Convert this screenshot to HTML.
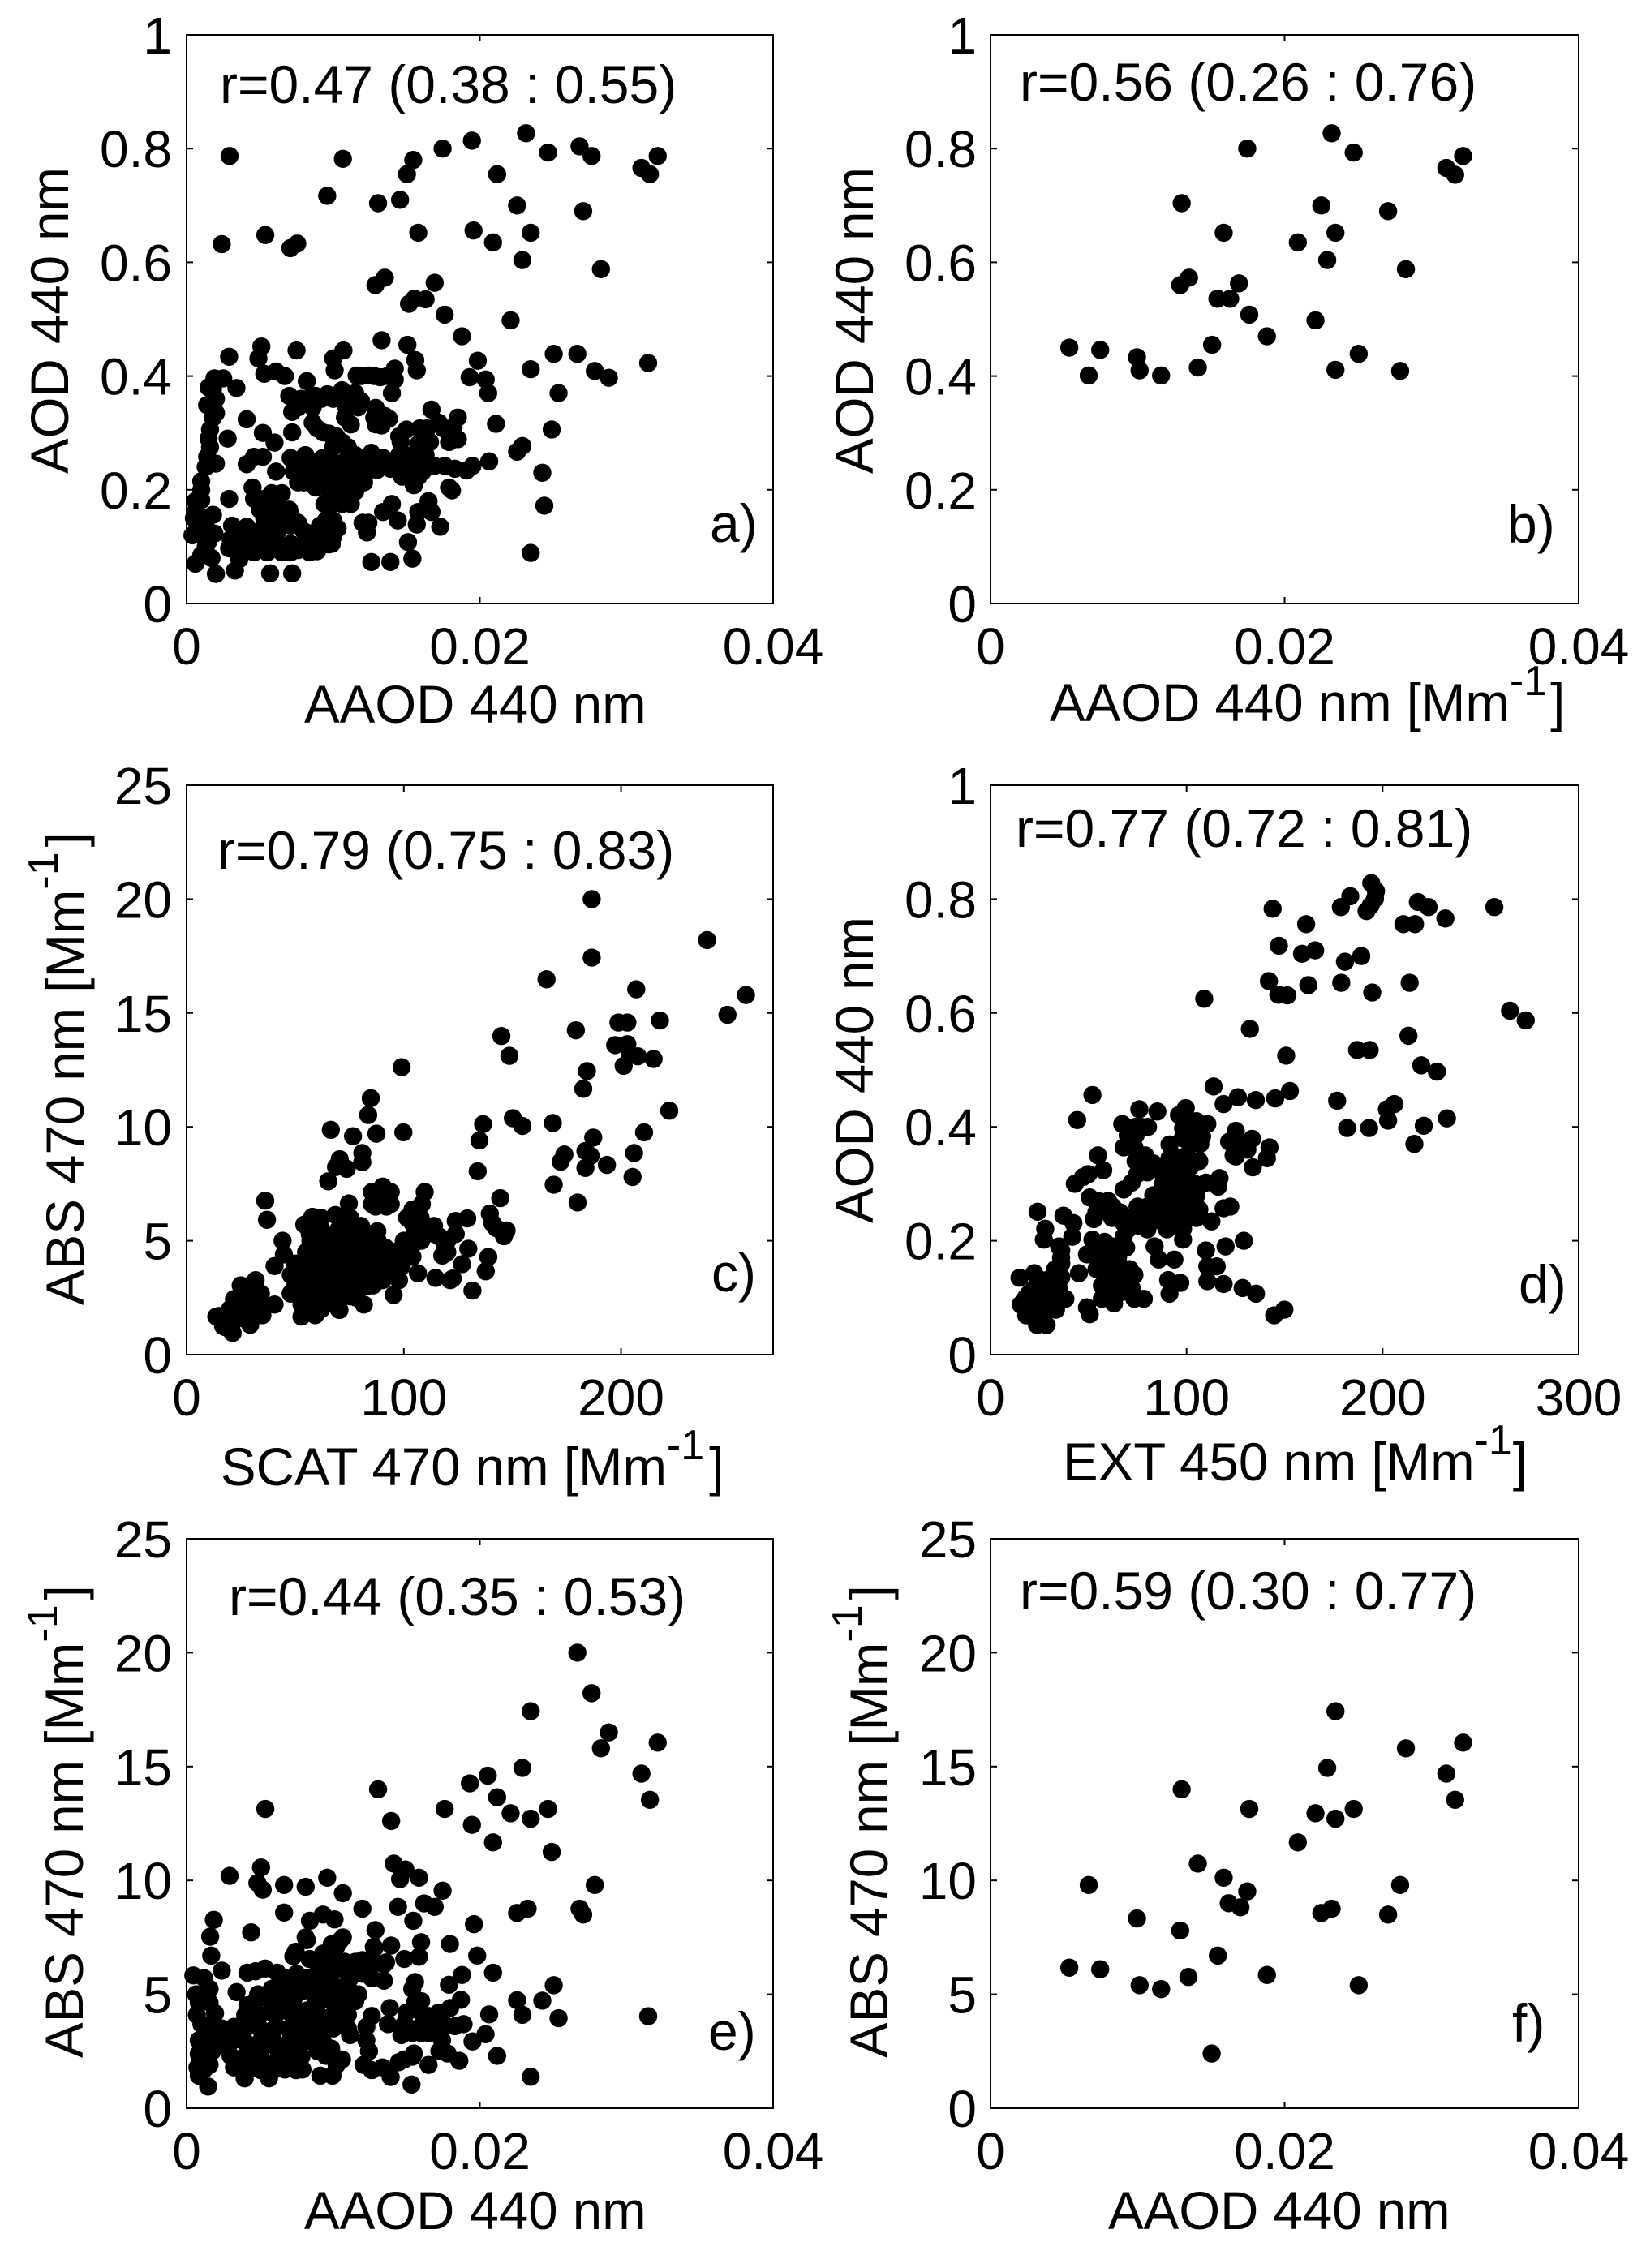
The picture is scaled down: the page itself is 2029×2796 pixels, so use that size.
<!DOCTYPE html>
<html>
<head>
<meta charset="utf-8">
<title>Scatter panels</title>
<style>
html,body{margin:0;padding:0;background:#fff;}
svg{display:block;}
text{font-family:"Liberation Sans",Arial,sans-serif;fill:#000;}
.annot,.letter{font-size:66px;}
.axt{font-size:65.4px;}
.tick{font-size:64px;}
.sup{font-size:52px;}
</style>
</head>
<body>
<svg id="fig" xmlns="http://www.w3.org/2000/svg" width="2029" height="2796" viewBox="0 0 2029 2796">
<rect x="0" y="0" width="2029" height="2796" fill="#fff"/>

<g id="panel-a"></g>
<g id="panel-b"></g>
<g id="panel-c"></g>
<g id="panel-d"></g>
<g id="panel-e"></g>
<g id="panel-f"></g>

<g>
<text class="annot" x="271" y="127">r=0.47 (0.38 : 0.55)</text>
<text class="annot" x="1257" y="124">r=0.56 (0.26 : 0.76)</text>
<text class="annot" x="268" y="1071">r=0.79 (0.75 : 0.83)</text>
<text class="annot" x="1252" y="1044">r=0.77 (0.72 : 0.81)</text>
<text class="annot" x="282" y="1991">r=0.44 (0.35 : 0.53)</text>
<text class="annot" x="1257" y="1984">r=0.59 (0.30 : 0.77)</text>
<text class="letter" x="875" y="668">a)</text>
<text class="letter" x="1858" y="669">b)</text>
<text class="letter" x="877" y="1592">c)</text>
<text class="letter" x="1872" y="1606">d)</text>
<text class="letter" x="873" y="2527">e)</text>
<text class="letter" x="1864" y="2517">f)</text>
</g>

<g>
<text class="axt" x="375" y="891">AAOD 440 nm</text>
<text class="axt" x="1294" y="889">AAOD 440 nm [Mm<tspan class="sup" dy="-32">-1</tspan><tspan dy="32" dx="4">]</tspan></text>
<text class="axt" x="272" y="1831">SCAT 470 nm [Mm<tspan class="sup" dy="-32">-1</tspan><tspan dy="32" dx="6">]</tspan></text>
<text class="axt" x="1310" y="1825">EXT 450 nm [Mm<tspan class="sup" dy="-32">-1</tspan><tspan dy="32" dx="1">]</tspan></text>
<text class="axt" x="375" y="2748">AAOD 440 nm</text>
<text class="axt" x="1366" y="2748">AAOD 440 nm</text>
<text class="axt" transform="translate(84,584) rotate(-90)">AOD 440 nm</text>
<text class="axt" transform="translate(1076,584) rotate(-90)">AOD 440 nm</text>
<text class="axt" transform="translate(103,1609) rotate(-90)">ABS 470 nm [Mm<tspan class="sup" dy="-32">-1</tspan><tspan dy="32" dx="6">]</tspan></text>
<text class="axt" transform="translate(1076,1508) rotate(-90)">AOD 440 nm</text>
<text class="axt" transform="translate(102,2537) rotate(-90)">ABS 470 nm [Mm<tspan class="sup" dy="-32">-1</tspan><tspan dy="32" dx="6">]</tspan></text>
<text class="axt" transform="translate(1094,2537) rotate(-90)">ABS 470 nm [Mm<tspan class="sup" dy="-32">-1</tspan><tspan dy="32" dx="6">]</tspan></text>
</g>
</svg>

<script>
// ---- tick values and labels ----
const aaodTicks = [0, 20, 40];            // AAOD x 1000
const aaodTickLabels = ['0', '0.02', '0.04'];
const aodTicks = [0, 0.2, 0.4, 0.6, 0.8, 1];
const aodTickLabels = ['0', '0.2', '0.4', '0.6', '0.8', '1'];
const absTicks = [0, 5, 10, 15, 20, 25];
const absTickLabels = ['0', '5', '10', '15', '20', '25'];
const scatTicks = [0, 100, 200];
const scatTickLabels = ['0', '100', '200'];
const extTicks = [0, 100, 200, 300];
const extTickLabels = ['0', '100', '200', '300'];

// ---- panel a: AAOD x 1000 vs AOD ----
const panelAX = [
10.66,9.59,13.06,14.56,15.03,15.46,17.46,19.46,23.15,24.65,26.8,27.62,21.18,22.54,27.05,31.02,31.6,32.13,2.93,
2.4,5.37,7.08,7.55,15.8,19.57,20.9,23.47,22.9,28.26,12.88,13.52,16.92,15.17,15.53,16.3,17.6,22.1,18.78,13.3,15.06,
25.04,26.65,19.86,31.48,23.47,27.84,28.8,25.37,24.9,22.9,22.54,24.26,24.4,23.47,20.64,21.1,20.57,20.4,19.3,
1.9,2.5,3.4,1.8,2,1.4,1.8,1.8,1.6,1.6,1.4,2,1,1,.6,1.8,.8,.8,1.9,1.3,1.7,.6,2,3.3,3.6,2.9,4.1,2.8,2.9,5.1,4.9,7.5,5.3,6.1,6.7,10,10.7,10.1,15.6,15.7,
5.2,6,4.6,4.1,5.2,6.1,4.5,
3.1,3,2.9,4,4.1,5,5.3,5.8,4.6,6.7,7.6,8.9,9.7,10.3,10,9.3,8.4,8.8,7.6,6.2,4.1,5.7,7.2,
4.6,5,5.8,6.5,5.8,6.7,5.4,7.1,7.1,9.5,9.1,10,
7.1,8.1,9.3,7.3,8.4,9.5,10.6,11.5,12.6,10.8,11.7,11.9,10,8.8,11.2,9.4,10.2,10.8,7.6,
8.6,9.3,10.2,11,10,
13.4,13.9,14.7,15.5,15.2,15.9,14.5,14.5,15,15.8,16.3,16.7,17.2,18.5,18.2,18.5,17.9,15.9,17.6,18.3,19.1,19.5,16.9,16.1,
7,7.2,8.2,7.8,8.8,9.6,10.6,11.5,11.9,10.8,11.2,12.9,12.8,13.3,13.8,11.6,12.4,13.2,14.2,14.2,14,7.2,
14,13.4,12.4,12,12.3,14.4,16.5,15.8,16.7,15.7,17.3,15.1,15.4,12.6,13.9,18.1,17.9,
3.4,4.3,5.3,6.2,8,8.9,9.9,
3.4,4.3,5.3,6.2,7.1,8,8.9,9.9,
3.6,4.6,5.5,6.5,7.1,8.4,
5.3,6.2,
5.4,6.2,7,
5.3,6,6.8,
7.5,8.9,9.9,10.8,
7.8,8.9,10.2,11,12.1,
8,9,9.7,10.5,11.5,12.1,
9.7,10.5,11.5,
9.9,10.6,11.2,
12,13,14,
13,12.5,
15.4,16.3,
15,16,
14.6,16.6,
16.4,17.5,18,
15,15.8,
8.3,9.2,10,11,
7.6,8.6,10.9,11.7,
13,13.5,
12.9,
11.9,12.8,13.7,
8.9,9.7,10.6,
1.5,2,1.5,1.3,1,.6,1.2,.7,1.5,1,.4,.5,1.4
];
const panelAY = [
.782,.717,.704,.71,.755,.78,.8,.814,.827,.793,.804,.787,.755,.7,.69,.766,.755,.787,.787,
.632,.648,.625,.633,.652,.656,.635,.652,.604,.588,.56,.573,.564,.527,.536,.535,.508,.498,.47,.463,.455,
.439,.439,.427,.423,.412,.409,.397,.37,.306,.277,.267,.23,.172,.089,.25,.316,.37,.394,.398,
.396,.396,.379,.377,.36,.349,.346,.327,.306,.275,.258,.246,.215,.182,.161,.156,.139,.123,.123,.099,.08,.07,.052,.058,.078,.184,.324,.29,.434,.452,.431,.445,.404,.408,.4,.431,.445,.41,.428,.41,
.3,.283,.258,.245,.258,.232,.204,
.137,.113,.097,.123,.099,.127,.094,.118,.108,.097,.094,.092,.104,.132,.118,.123,.123,.108,.142,.142,.135,.053,.053,
.184,.165,.194,.194,.165,.165,.146,.156,.137,.146,.137,.146,
.256,.261,.256,.232,.237,.232,.246,.261,.265,.223,.227,.242,.204,.204,.204,.175,.18,.192,.213,
.318,.301,.294,.275,.275,
.256,.237,.223,.208,.237,.246,.261,.294,.306,.28,.299,.341,.318,.327,.308,.289,.284,.308,.242,.237,.234,.242,.242,.232,
.365,.337,.391,.36,.365,.368,.375,.37,.356,.327,.315,.344,.327,.313,.325,.401,.401,.398,.413,.394,.37,.301,
.175,.161,.142,.142,.125,.146,.18,.161,.161,.139,.135,.108,.079,.073,.073,.199,.204,
.127,.127,.127,.127,.127,.127,.127,
.105,.105,.105,.105,.105,.105,.105,.105,
.09,.09,.09,.09,.09,.09,
.184,.184,
.165,.165,.165,
.15,.15,.15,
.25,.25,.25,.25,
.23,.23,.23,.23,.23,
.213,.213,.213,.213,.213,.213,
.197,.197,.197,
.175,.175,.175,
.25,.25,.25,
.235,.235,
.261,.261,
.237,.237,
.284,.284,
.308,.308,.308,
.223,.223,
.36,.36,.36,.36,
.345,.345,.345,.345,
.33,.33,
.315,
.4,.4,.4,
.308,.299,.284,
.38,.335,.29,.24,.2,.18,.15,.13,.11,.085,.12,.15,.13
];

// ---- panel b: AAOD x 1000 vs AOD ----
const panelBX = [5.36,6.68,7.46,9.96,10.14,11.6,13,12.9,13.5,14.1,15.07,15.43,16.3,15.86,16.9,17.46,17.6,18.8,20.9,22.1,22.5,22.9,23.2,23.46,23.46,24.7,25.04,27.04,27.86,28.25,31,31.6,32.14];
const panelBY = [.45,.401,.446,.433,.41,.401,.704,.56,.573,.415,.455,.536,.536,.652,.563,.8,.508,.47,.635,.498,.7,.604,.827,.652,.411,.793,.439,.69,.409,.588,.766,.754,.787];

// ---- panel c: SCAT vs ABS ----
const panelCX = [
186.5,239.6,186.5,165.7,207,257.5,249,217.9,198.8,202.9,179.2,144.9,148.6,197.3,202.9,204,207.7,201.2,215,99,184.3,182.6,84.8,83.6,222.2,136.5,150.2,154.6,168.6,66.4,
99.8,76.6,87.4,210.6,134.8,187.2,80.9,206,80.9,173.9,172.2,183.6,186,183.6,193.5,134,205.3,169,180,70.5,68.8,73.7,65.2,36.2,37,144.4,139.6,140.8,142.5,147.3,146.1,129.7,138.9,137.7,126.8,131.6,129.2,123.9,122.5,
13.7,16.8,21.2,29.3,21.8,28,34.9,21.8,28,34.2,24.9,31.8,29.3,34.2,40.5,47.9,40.5,44.2,44.8,50.4,
52.9,59.2,70.4,81.6,95.3,85.9,52.9,60.4,67.9,75.3,50.4,56.7,64.1,71.6,79.1,90.3,97.8,55.4,62.9,70.4,77.8,85.3,92.8,99,106.5,114.6,121.4,
57.9,54.2,56.7,59.2,68.5,74.7,75.3,69.1,75.3,66.6,72.9,84.1,85.3,91.5,97.8,104,105.2,
90.3,85.3,94,89.7,94,85.3,80.3,87.8,109.6,108.3,104,101.5,107.7,109,104,123.9,118.9,117.7,113.9,116.4,
55,62,70,
55,60,65,70,78,
50,55,60,68,75,83,
48,53,58,65,72,78,83,88,95,
50,55,60,65,73,82,90,95,
55,63,68,78,83,88,95,
57,62,66,72,78,82,88,
58,62,70,80,
62,72,
87,92,
88,92,
100,108,
100,104,
18,22,28,
20,25,30,
24,32,
28,18,15,120,120,114
];
const panelCY = [
20,18.2,17.43,16.48,16.04,15.79,14.92,14.67,14.58,14.58,14.24,13.99,13.12,13.59,13.63,13.17,13.1,12.68,12.98,12.62,12.45,11.67,11.26,10.52,10.71,10.12,10.38,10.04,10.17,9.87,
9.76,9.59,9.7,9.76,9.4,9.53,8.85,8.85,8.45,8.79,8.47,8.94,8.73,8.2,8.33,8.05,7.8,7.46,6.68,8.58,8.24,8.16,7.61,6.76,5.92,6.87,6.19,5.77,5.56,5.45,5.2,4.65,4.29,3.66,3.97,2.81,5.98,5.87,3.34,
1.67,1.25,.95,1.31,1.73,1.85,1.73,2.44,2.56,2.2,3.04,3.27,2.8,2.68,2.2,2.68,3.89,5,4.4,3.63,
1.67,1.73,1.96,2.2,2.62,3.04,2.2,2.32,2.32,2.56,3.04,3.04,3.04,3.04,3.15,3.27,3.27,3.75,3.75,3.87,3.75,3.87,3.99,3.87,3.57,3.37,3.27,
6.05,5.71,5.3,4.82,6.13,6.64,6.01,5.18,5.3,4.35,4.35,5.3,4.7,4.7,4.58,4.82,5.42,
7.38,7.14,7.14,6.73,6.61,6.61,5.65,5.42,7.14,6.61,6.37,6.01,6.01,5.54,5.77,5.3,4.82,4.35,5.65,5.18,
2,2,2,
2.5,2.5,2.5,2.5,2.5,
3,3,3,3,3,3,
3.5,3.5,3.5,3.5,3.5,3.5,3.5,3.5,3.5,
4,4,4,4,4,4,4,4,
4.5,4.5,4.5,4.5,4.5,4.5,4.5,
5,5,5,5,5,5,5,
5.5,5.5,5.5,5.5,
6,6,
6.5,6.5,
7,7,
5,5,
4.3,4.3,
1.5,1.5,1.5,
2,2,2,
2.5,2.5,
3,1.2,1.7,5,4.5,5.3
];

// ---- panel d: EXT vs AOD ----
const panelDX = [
143.9,161,178.7,183.5,194.2,196.6,196.1,193.9,191.8,210.6,216.5,218,223.4,232,257,147.1,158.9,165.6,180.8,189.1,142,162.1,178.9,213.8,146.8,151.4,194.7,109,265,273,132.3,213.2,187,193.4,150.8,219.7,227.7,113.8,152.7,52,126.2,118.9,135.3,145.2,176.8,206,202.2,202.8,232.8,221,181.9,193.1,44.2,216.2,
75.9,85.1,67.2,70.6,80.3,67.9,73.4,78.9,83,99.6,96.1,98.2,110.6,107.9,102.3,125.1,121.7,133.4,125.1,129.2,142.3,141,133.8,
54.8,57.5,49.9,43,47.2,50.6,52.7,56.1,62.3,67.9,72,74.8,
91.3,91.3,87.2,89.9,85.8,98.2,106.5,116.8,116.1,109.9,98.2,105.1,94.1,102.3,84.4,76.1,91.3,101,67.9,76.1,84.4,98.2,98.2,106.5,112.7,122.3,118.9,
24,37.2,42.3,41.7,27.9,27.2,83.7,85.8,93.8,90.6,96.8,91.3,
129.2,119.9,109.9,110.6,115.4,110.6,118.9,128.6,135.4,149.9,144.7,
52,49.2,58.2,56.8,65.1,69.2,54.1,62.3,70.6,73.4,56.8,63.7,72,73.4,78.2,62.3,56.8,49.2,50.6,67.9,
36.1,36.1,45.1,36.1,14.8,22.3,28.6,34.8,38.2,32.7,15.4,19.6,22.3,29.2,18.2,23.7,28.6,33.4,24.4,
88,92,96,100,104,
83,90,95,100,105,
75,80,88,95,100,105,
62,70,80,87,95,105,
70,80,90,
92,95,102,
93,100,
98,103,
100,105,
55,60,
54,60,66,
55,62,
60,65,
58,66,71,
60,67,70,
60,67,
63,
18,22,28,
25,
22,27,31,
22,27,
25,
25,31,
33,36,35,
70,74,
74,77,
72,74,80,
107,103,
127,124,131
];
const panelDY = [
.783,.756,.786,.805,.828,.814,.801,.789,.779,.756,.756,.795,.786,.766,.786,.718,.704,.71,.69,.7,.656,.649,.653,.653,.632,.631,.636,.625,.604,.587,.572,.56,.535,.535,.525,.508,.497,.471,.463,.456,.452,.44,.447,.45,.446,.44,.431,.411,.415,.402,.398,.398,.412,.37,
.431,.427,.405,.398,.4,.364,.364,.35,.336,.433,.421,.398,.405,.383,.374,.393,.374,.379,.348,.364,.364,.345,.329,
.35,.324,.317,.3,.312,.276,.238,.26,.26,.29,.302,.317,
.369,.345,.321,.302,.283,.331,.34,.31,.295,.302,.302,.293,.274,.269,.264,.245,.24,.245,.231,.226,.236,.221,.202,.255,.234,.26,.257,
.251,.244,.231,.207,.221,.202,.19,.167,.167,.131,.126,.107,
.2,.19,.183,.155,.155,.129,.124,.117,.107,.079,.069,
.202,.176,.198,.169,.174,.188,.15,.145,.15,.14,.121,.121,.117,.098,.098,.102,.098,.083,.071,.207,
.183,.16,.143,.136,.135,.143,.131,.117,.098,.093,.088,.107,.079,.079,.069,.052,.052,.079,.098,
.3,.3,.3,.3,.3,
.28,.28,.28,.28,.28,
.26,.26,.26,.26,.26,.26,
.24,.24,.24,.24,.24,.24,
.22,.22,.22,
.33,.33,.33,
.35,.35,
.38,.38,
.41,.41,
.27,.27,
.25,.25,.25,
.19,.19,
.17,.17,
.15,.15,.15,
.13,.13,.13,
.11,.11,
.09,
.1,.1,.1,
.08,
.115,.115,.115,
.07,.07,
.06,
.125,.125,
.15,.17,.19,
.385,.385,
.4,.4,
.37,.34,.32,
.37,.37,
.37,.35,.36
];

// ---- panel e: AAOD x 1000 vs ABS ----
const panelEX = [
26.65,27.62,23.47,28.8,28.26,32.13,31.02,31.6,22.9,20.54,19.32,21.18,13.06,5.37,13.95,17.6,19.46,22.1,23.47,24.65,20.9,24.9,14.13,14.92,14.56,15.85,2.93,5.08,4.83,5.19,6.65,8.12,9.59,10.66,17.46,27.84,
11.99,14.42,16.2,16.92,15.46,22.54,23.26,26.8,27.05,6.65,1.86,1.61,4.4,8.41,9.3,10.09,19.6,12.88,8.12,10.66,13.95,15.99,17.96,12.77,19.82,1.68,10.2,7.44,11.99,14.85,15.85,2.4,20.9,18.78,17.89,25.04,22.54,24.26,22.9,20.64,25.37,31.48,20.39,19.5,21.18,18.6,23.47,
.46,1.2,.65,1.57,1.57,.83,1.01,1.94,.83,1.75,.83,1.75,.74,1.57,.83,1.47,
4.15,4.7,5.35,6.18,3.41,4.15,4.88,5.81,5.81,6.73,6.64,3.96,3.23,2.67,3.78,4.88,5.25,4.52,6.18,6.54,5.99,
7.28,7.83,7.28,8.2,8.39,8.2,9.31,10.5,10.05,8.94,10.05,10.78,11.15,11.52,11.98,12.81,13.46,13.46,12.63,11.71,10.78,9.68,9.31,8.2,7.65,8.76,9.68,10.78,11.15,8.57,7.47,
3.23,3.96,5.07,5.62,5.99,7.47,7.83,2.67,8.94,9.86,10.6,9.12,9.95,10.23,
12.07,12.63,13.92,13.36,12.44,12.26,12.26,12.63,13.86,13.73,14.84,15.94,16.5,17.42,18.89,17.97,18.71,15.58,15.39,15.58,
14.65,14.84,15.39,16.5,17.42,17.24,14.47,15.34,7.1,
1.2,4.3,6,6.7,7.9,
1.3,3,4,5,6.3,7,9.5,10,
1.2,2,3,4,5,6,7,8,9.3,
1.5,2.4,4,5,6,7,8,9,10,11,
.7,4,5,6,7.2,8,9,10,11,
4.7,6.8,8.8,10,10.8,11.5,
7.2,8.8,9.2,10.3,11,
7.5,9.3,9.7,11,12,
9.2,9.7,10.3,12.8,13.6,
9.9,
15.4,16,16.5,17,
15,16,17.2,
15,16.4,17.5,18.3,
15.5,17.8,
16
];
const panelEY = [
20,18.22,17.43,16.5,15.8,16.05,14.69,13.54,14.94,14.6,14.26,13.65,14,13.14,12.61,13.14,12.44,12.95,12.71,13.14,11.67,11.25,10.74,10.48,10.06,10.12,10.2,10.57,9.89,9.59,9.8,9.72,10.12,9.44,9.55,9.8,
8.76,8.84,8.99,8.84,8.23,8.57,8.76,8.76,8.5,8.59,8.27,7.53,7.72,8.23,8.5,8.29,8.08,7.82,7.5,7.5,7.14,7.29,7.21,7.08,6.7,6.7,7.08,6.87,6.5,6.55,6.65,6.04,5.95,5.85,5.42,5.4,4.74,4.72,4.1,4.12,3.95,4.04,3.25,2.93,2.3,2.08,1.38,
5.83,5.71,5,5.24,4.64,4.64,3.69,4.17,2.98,3.21,2.38,2.5,1.79,1.9,1.43,.95,
5.95,6.01,6.13,5.95,5.1,4.52,5,5.24,4.64,5.71,5.12,3.81,3.57,3.33,2.98,4.05,3.33,2.74,3.57,4.29,2.74,
4.76,5.12,6.67,7.38,6.55,5.71,6.79,7.38,6.79,5.95,6.07,6.43,5.71,6.43,6.49,7.02,6.31,5.6,5.71,5,4.52,5.24,4.76,4.29,3.57,4.05,3.81,3.81,3.21,3.21,2.86,
1.79,1.31,1.67,1.31,2.02,1.67,2.26,2.74,2.5,2.62,2.14,1.43,1.43,1.9,
1.9,1.67,1.37,1.79,2.5,2.98,3.57,4.05,4.4,3.69,3.69,3.57,4.05,3.81,3.69,4.4,4.76,4.64,5.24,5.54,
3.21,2.14,2.26,1.9,2.98,2.5,2.02,1.04,3.33,
1.7,1.7,1.7,1.7,1.7,
2.3,2.3,2.3,2.3,2.3,2.3,2.3,2.3,
2.9,2.9,2.9,2.9,2.9,2.9,2.9,2.9,2.9,
3.5,3.5,3.5,3.5,3.5,3.5,3.5,3.5,3.5,3.5,
4.1,4.1,4.1,4.1,4.1,4.1,4.1,4.1,4.1,
4.7,4.7,4.7,4.7,4.7,4.7,
5.3,5.3,5.3,5.3,5.3,
5.9,5.9,5.9,5.9,5.9,
6.4,6.4,6.4,6.4,6.4,
7.2,
3.3,3.3,3.3,3.3,
4.2,4.2,4.2,
3.6,3.6,3.6,3.6,
2.4,2.4,
4.7
];

// ---- panel f: AAOD x 1000 vs ABS ----
const panelFX = [5.36,6.68,7.46,9.96,10.14,11.6,13,12.9,13.46,14.1,15.04,15.46,15.86,16.2,17,17.46,17.6,18.8,20.9,22.1,22.5,22.9,23.2,23.46,23.46,24.7,25.04,27.04,27.86,28.25,31,31.6,32.14];
const panelFY = [6.17,9.8,6.1,8.33,5.4,5.23,14,7.8,5.76,10.74,2.4,6.7,10.12,9,8.82,9.52,13.14,5.85,11.67,12.95,8.57,14.94,8.76,17.43,12.71,13.14,5.4,8.5,9.8,15.8,14.69,13.54,16.05];

// ---- layout ----
const NS = 'http://www.w3.org/2000/svg';
const DOT_R = 11.2;
const TICK_LEN = 8;
const COL_1 = { left: 230, right: 953, yTickRight: 212 };
const COL_2 = { left: 1221, right: 1946, yTickRight: 1204 };
const ROW_1 = { top: 43, bottom: 744 };
const ROW_2 = { top: 968, bottom: 1670 };
const ROW_3 = { top: 1897, bottom: 2599 };

function scaleLinear(v, d0, d1, r0, r1) {
  return r0 + (v - d0) / (d1 - d0) * (r1 - r0);
}

function makeLine(parent, x1, y1, x2, y2) {
  const el = document.createElementNS(NS, 'line');
  el.setAttribute('x1', x1);
  el.setAttribute('y1', y1);
  el.setAttribute('x2', x2);
  el.setAttribute('y2', y2);
  el.setAttribute('stroke', '#000');
  el.setAttribute('stroke-width', '2');
  
  
  parent.appendChild(el);
}

function makeTickLabel(parent, x, y, anchor, label) {
  const el = document.createElementNS(NS, 'text');
  el.setAttribute('class', 'tick');
  el.setAttribute('x', x);
  el.setAttribute('y', y);
  el.setAttribute('text-anchor', anchor);
  
  
  el.textContent = label;
  parent.appendChild(el);
}

function drawPanel(id, col, row, xDomain, yDomain, xTicks, xLabels, yTicks, yLabels, xs, ys) {
  const g = document.getElementById(id);
  const sx = v => scaleLinear(v, xDomain[0], xDomain[1], col.left, col.right);
  const sy = v => scaleLinear(v, yDomain[0], yDomain[1], row.bottom, row.top);

  const frame = document.createElementNS(NS, 'rect');
  frame.setAttribute('x', col.left);
  frame.setAttribute('y', row.top);
  frame.setAttribute('width', col.right - col.left);
  frame.setAttribute('height', row.bottom - row.top);
  frame.setAttribute('fill', 'none');
  frame.setAttribute('stroke', '#000');
  frame.setAttribute('stroke-width', '2');
  
  
  g.appendChild(frame);

  xTicks.forEach((t, i) => {
    const x = sx(t);
    makeLine(g, x, row.bottom, x, row.bottom - TICK_LEN);
    makeLine(g, x, row.top, x, row.top + TICK_LEN);
    makeTickLabel(g, x, row.bottom + 75, 'middle', xLabels[i]);
  });
  yTicks.forEach((t, i) => {
    const y = sy(t);
    makeLine(g, col.left, y, col.left + TICK_LEN, y);
    makeLine(g, col.right, y, col.right - TICK_LEN, y);
    makeTickLabel(g, col.yTickRight, y + 23, 'end', yLabels[i]);
  });

  const n = Math.min(xs.length, ys.length);
  for (let i = 0; i < n; i++) {
    const dot = document.createElementNS(NS, 'circle');
    dot.setAttribute('cx', sx(xs[i]));
    dot.setAttribute('cy', sy(ys[i]));
    dot.setAttribute('r', DOT_R);
    dot.setAttribute('fill', '#000');
    
    
    g.appendChild(dot);
  }
}

drawPanel('panel-a', COL_1, ROW_1, [0, 40], [0, 1], aaodTicks, aaodTickLabels, aodTicks, aodTickLabels, panelAX, panelAY);
drawPanel('panel-b', COL_2, ROW_1, [0, 40], [0, 1], aaodTicks, aaodTickLabels, aodTicks, aodTickLabels, panelBX, panelBY);
drawPanel('panel-c', COL_1, ROW_2, [0, 270], [0, 25], scatTicks, scatTickLabels, absTicks, absTickLabels, panelCX, panelCY);
drawPanel('panel-d', COL_2, ROW_2, [0, 300], [0, 1], extTicks, extTickLabels, aodTicks, aodTickLabels, panelDX, panelDY);
drawPanel('panel-e', COL_1, ROW_3, [0, 40], [0, 25], aaodTicks, aaodTickLabels, absTicks, absTickLabels, panelEX, panelEY);
drawPanel('panel-f', COL_2, ROW_3, [0, 40], [0, 25], aaodTicks, aaodTickLabels, absTicks, absTickLabels, panelFX, panelFY);
</script>
</body>
</html>
